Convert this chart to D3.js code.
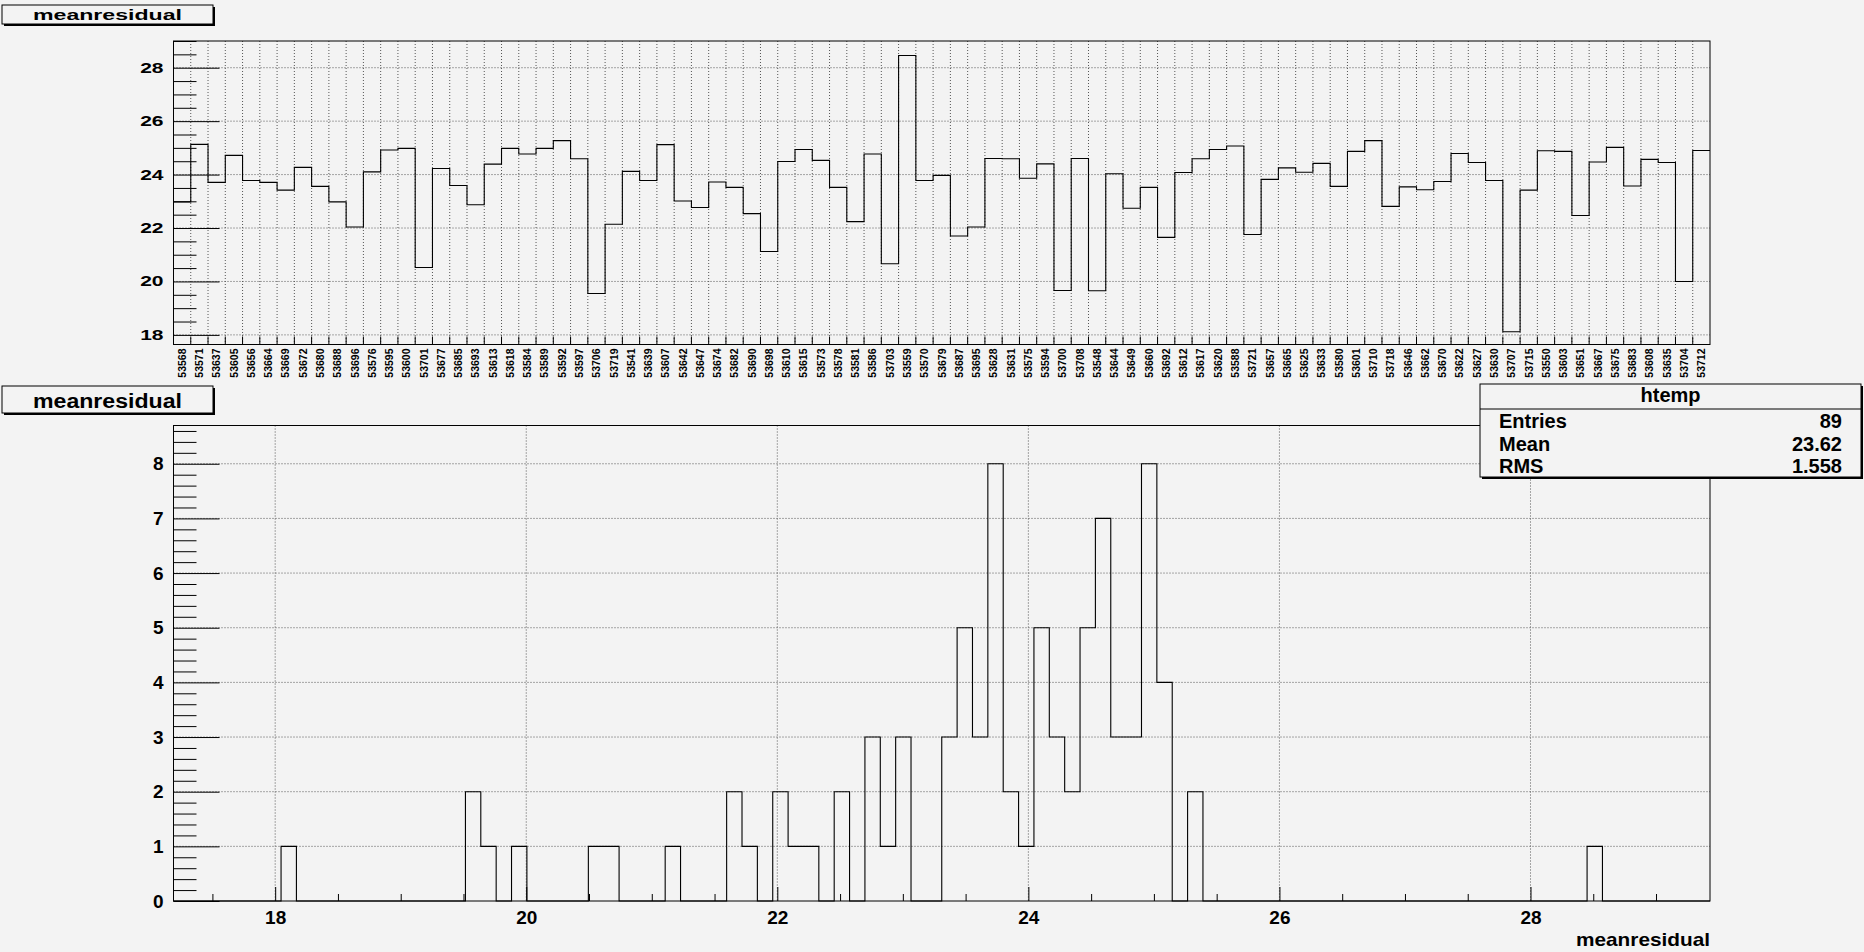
<!DOCTYPE html>
<html>
<head>
<meta charset="utf-8">
<script src="https://cdn.jsdelivr.net/npm/d3@7"></script>
<style>
  body { margin: 0; background: #f3f3f3; }
  svg { display: block; font-family: "Liberation Sans", Arial, sans-serif; font-weight: bold; }
</style>
</head>
<body>
<svg id="canvas" width="1864" height="952"></svg>
<script>
// run numbers (top histogram bin labels)
const runs = [
  "53568","53571","53637","53605","53656","53664","53669","53672","53680","53688",
  "53696","53576","53595","53600","53701","53677","53685","53693","53613","53618",
  "53584","53589","53592","53597","53706","53719","53541","53639","53607","53642",
  "53647","53674","53682","53690","53698","53610","53615","53573","53578","53581",
  "53586","53703","53559","53570","53679","53687","53695","53628","53631","53575",
  "53594","53700","53708","53548","53644","53649","53660","53692","53612","53617",
  "53620","53588","53721","53657","53665","53625","53633","53580","53601","53710",
  "53718","53646","53662","53670","53622","53627","53630","53707","53715","53550",
  "53603","53651","53667","53675","53683","53608","53635","53704","53712"
];

// mean residual per run
const meanResidual = [
  22.98,25.13,23.71,24.72,23.78,23.71,23.42,24.27,23.56,22.98,
  22.04,24.10,24.92,24.98,20.52,24.23,23.59,22.87,24.39,24.98,
  24.77,24.98,25.27,24.59,19.55,22.14,24.12,23.78,25.12,23.01,
  22.77,23.72,23.52,22.54,21.12,24.49,24.94,24.53,23.52,22.24,
  24.77,20.66,28.46,23.78,23.97,21.70,22.04,24.60,24.59,23.86,
  24.40,19.66,24.60,19.65,24.03,22.74,23.52,21.65,24.08,24.59,
  24.94,25.07,21.76,23.82,24.25,24.09,24.42,23.56,24.87,25.27,
  22.81,23.54,23.43,23.74,24.79,24.45,23.78,18.12,23.42,24.89,
  24.87,22.47,24.47,25.02,23.57,24.57,24.45,20.00,24.90
];

// htemp: 100 bins between histRange[0] and histRange[1]
const histRange = [17.19, 29.43];
const histCounts = [
  0,0,0,0,0,0,0,1,0,0,
  0,0,0,0,0,0,0,0,0,2,
  1,0,1,0,0,0,0,1,1,0,
  0,0,1,0,0,0,2,1,0,2,
  1,1,0,2,0,3,1,3,0,0,
  3,5,3,8,2,1,5,3,2,5,
  7,3,3,8,4,0,2,0,0,0,
  0,0,0,0,0,0,0,0,0,0,
  0,0,0,0,0,0,0,0,0,0,
  0,0,1,0,0,0,0,0,0,0
];

const statNames = ["Entries", "Mean", "RMS"];
const statValues = ["89", "23.62", "1.558"];

const topYRange = [17.64, 29.0];
const bottomYRange = [0, 8.7];

const svg = d3.select("#canvas");
svg.append("rect").attr("width", 1864).attr("height", 952).attr("fill", "#f3f3f3");

// stretch text horizontally like the original X11 fonts
function stretch(sel, f) {
  sel.each(function() {
    const w = this.getComputedTextLength();
    this.setAttribute("textLength", w * f);
    this.setAttribute("lengthAdjust", "spacingAndGlyphs");
  });
}

function titleBox(x, y, w, h, text, size, fit, baseline) {
  svg.append("rect").attr("x", x + 2).attr("y", y + 2).attr("width", w).attr("height", h).attr("fill", "#000");
  svg.append("rect").attr("x", x).attr("y", y).attr("width", w).attr("height", h)
    .attr("fill", "#f3f3f3").attr("stroke", "#000").attr("stroke-width", 1);
  svg.append("text").attr("x", x + w / 2).attr("y", baseline)
    .attr("text-anchor", "middle").attr("font-size", size)
    .attr("textLength", fit).attr("lengthAdjust", "spacingAndGlyphs")
    .text(text);
}

function dotted(g) {
  g.attr("stroke", "#555").attr("stroke-width", 1).attr("stroke-dasharray", "1,2").attr("fill", "none");
}

// ---------------- top pad: meanresidual vs run ----------------
const t = { left: 173.5, right: 1710, top: 41, bottom: 344.5 };

const xTop = d3.scaleBand().domain(runs).range([t.left, t.right]);
const yTop = d3.scaleLinear().domain(topYRange).range([t.bottom, t.top]);

const topG = svg.append("g");
const edges = runs.map(r => xTop(r)).concat([t.right]);

// grid
topG.append("g").selectAll("line").data(edges.slice(1, -1)).join("line")
  .attr("x1", d => d).attr("x2", d => d).attr("y1", t.top).attr("y2", t.bottom)
  .call(dotted);
topG.append("g").selectAll("line").data(d3.range(18, 29, 2)).join("line")
  .attr("x1", t.left).attr("x2", t.right).attr("y1", d => yTop(d)).attr("y2", d => yTop(d))
  .call(dotted);

// histogram outline
const topPts = runs.map((r, i) => [xTop(r), meanResidual[i]]);
topPts.push([t.right, meanResidual[meanResidual.length - 1]]);
topG.append("path")
  .datum(topPts)
  .attr("fill", "none").attr("stroke", "#000").attr("stroke-width", 1.1)
  .attr("d", d3.line().x(d => d[0]).y(d => yTop(d[1])).curve(d3.curveStepAfter));

// frame
topG.append("rect").attr("x", t.left).attr("y", t.top)
  .attr("width", t.right - t.left).attr("height", t.bottom - t.top)
  .attr("fill", "none").attr("stroke", "#000");

// y axis
const yMinorTop = d3.range(18, 29.01, 0.5).filter(v => v % 2 !== 0);
topG.append("g").attr("transform", `translate(${t.left},0)`)
  .call(d3.axisLeft(yTop).tickValues(yMinorTop).tickSize(-23).tickFormat(""))
  .call(g => g.select(".domain").remove());
const yAxTop = topG.append("g").attr("transform", `translate(${t.left},0)`)
  .call(d3.axisLeft(yTop).tickValues(d3.range(18, 29, 2)).tickSize(-46).tickPadding(10))
  .call(g => g.select(".domain").remove());
yAxTop.selectAll("text").attr("font-size", 14).attr("font-family", null).attr("font-weight", "bold")
  .call(stretch, 1.5);

// x ticks at bin edges
topG.append("g").selectAll("line").data(edges.slice(1, -1)).join("line")
  .attr("x1", d => d).attr("x2", d => d).attr("y1", t.bottom).attr("y2", t.bottom - 8)
  .attr("stroke", "#000");

// run labels, vertical
topG.append("g").selectAll("text").data(runs).join("text")
  .attr("transform", d => `translate(${xTop(d) + xTop.bandwidth() / 2},${t.bottom + 4}) rotate(-90)`)
  .attr("text-anchor", "end").attr("dy", "0.36em").attr("font-size", 10.5)
  .text(d => d)
  .call(stretch, 1.0);

titleBox(2, 5, 211, 19, "meanresidual", 15, 149, 20);

// ---------------- bottom pad: htemp ----------------
const b = { left: 173.5, right: 1710, top: 425.5, bottom: 901 };

const xBot = d3.scaleLinear().domain(histRange).range([b.left, b.right]);
const yBot = d3.scaleLinear().domain(bottomYRange).range([b.bottom, b.top]);
const botG = svg.append("g");

// grid
botG.append("g").selectAll("line").data(d3.range(18, 29, 2)).join("line")
  .attr("x1", d => xBot(d)).attr("x2", d => xBot(d)).attr("y1", b.top).attr("y2", b.bottom)
  .call(dotted);
botG.append("g").selectAll("line").data(d3.range(1, 9)).join("line")
  .attr("x1", b.left).attr("x2", b.right).attr("y1", d => yBot(d)).attr("y2", d => yBot(d))
  .call(dotted);

// histogram outline
const binW = (histRange[1] - histRange[0]) / histCounts.length;
const botPts = [[histRange[0], 0]].concat(histCounts.map((c, i) => [histRange[0] + i * binW, c]));
botPts.push([histRange[1], 0]);
botG.append("path")
  .datum(botPts)
  .attr("fill", "none").attr("stroke", "#000").attr("stroke-width", 1.1)
  .attr("d", d3.line().x(d => xBot(d[0])).y(d => yBot(d[1])).curve(d3.curveStepAfter));

// frame
botG.append("rect").attr("x", b.left).attr("y", b.top)
  .attr("width", b.right - b.left).attr("height", b.bottom - b.top)
  .attr("fill", "none").attr("stroke", "#000");

// x axis
const xMinorBot = d3.range(17.5, 29.3, 0.5).filter(v => v % 2 !== 0);
botG.append("g").attr("transform", `translate(0,${b.bottom})`)
  .call(d3.axisBottom(xBot).tickValues(xMinorBot).tickSize(-7).tickFormat(""))
  .call(g => g.select(".domain").remove());
const xAxBot = botG.append("g").attr("transform", `translate(0,${b.bottom})`)
  .call(d3.axisBottom(xBot).tickValues(d3.range(18, 29, 2)).tickSize(-14).tickPadding(10))
  .call(g => g.select(".domain").remove());
xAxBot.selectAll("text").attr("font-size", 19).attr("font-family", null).attr("font-weight", "bold");

// y axis
const yMinorBot = d3.range(0, 8.61, 0.2).filter(v => Math.abs(v - Math.round(v)) > 0.01);
botG.append("g").attr("transform", `translate(${b.left},0)`)
  .call(d3.axisLeft(yBot).tickValues(yMinorBot).tickSize(-23).tickFormat(""))
  .call(g => g.select(".domain").remove());
const yAxBot = botG.append("g").attr("transform", `translate(${b.left},0)`)
  .call(d3.axisLeft(yBot).tickValues(d3.range(0, 9)).tickSize(-46).tickPadding(10))
  .call(g => g.select(".domain").remove());
yAxBot.selectAll("text").attr("font-size", 19).attr("font-family", null).attr("font-weight", "bold");

botG.selectAll(".tick line").attr("stroke", "#000");

// axis title
svg.append("text").attr("x", b.right).attr("y", 946)
  .attr("text-anchor", "end").attr("font-size", 19)
  .attr("textLength", 134).attr("lengthAdjust", "spacingAndGlyphs")
  .text("meanresidual");

titleBox(2, 386, 211, 27, "meanresidual", 20, 149, 408);

// stats box
const st = { x: 1480, y: 384, w: 381, h: 93 };
svg.append("rect").attr("x", st.x + 2).attr("y", st.y + 2).attr("width", st.w).attr("height", st.h).attr("fill", "#000");
svg.append("rect").attr("x", st.x).attr("y", st.y).attr("width", st.w).attr("height", st.h)
  .attr("fill", "#f3f3f3").attr("stroke", "#000");
svg.append("line").attr("x1", st.x).attr("x2", st.x + st.w).attr("y1", 409).attr("y2", 409).attr("stroke", "#000");
svg.append("text").attr("x", st.x + st.w / 2).attr("y", 402).attr("text-anchor", "middle")
  .attr("font-size", 20).text("htemp");
const rows = svg.append("g").selectAll("g").data(statNames).join("g")
  .attr("transform", (d, i) => `translate(0,${428 + i * 22.5})`);
rows.append("text").attr("x", 1499).attr("font-size", 20).text(d => d);
rows.append("text").attr("x", 1842).attr("text-anchor", "end").attr("font-size", 20)
  .text((d, i) => statValues[i]);
</script>
</body>
</html>
